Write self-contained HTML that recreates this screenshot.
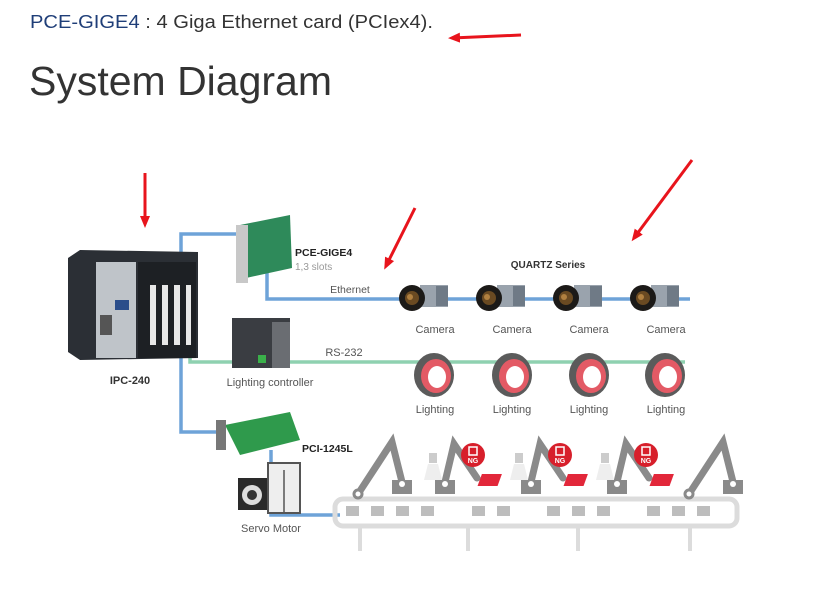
<!DOCTYPE html>
<html><head><meta charset="utf-8"><style>
html,body{margin:0;padding:0;background:#fff;width:826px;height:594px;overflow:hidden}
svg{display:block}
</style></head><body>
<svg width="826" height="594" viewBox="0 0 826 594" xmlns="http://www.w3.org/2000/svg" font-family="Liberation Sans, Arial, sans-serif">
<defs>
<marker id="ah" markerWidth="12" markerHeight="10" refX="8" refY="5" orient="auto" markerUnits="userSpaceOnUse"><path d="M0,0 L12,5 L0,10 z" fill="#e8141c"/></marker>
<g id="cam">
  <rect x="8" y="-13" width="28" height="22" fill="#9aa3ad"/>
  <rect x="24" y="-12" width="12" height="20" fill="#6f7a86"/>
  <circle cx="0" cy="0" r="13" fill="#1c1a18"/>
  <circle cx="0" cy="0" r="7" fill="#6a4a22"/>
  <circle cx="-2" cy="-1" r="3" fill="#b08040"/>
</g>
<g id="ring">
  <ellipse cx="0" cy="0" rx="20" ry="22" fill="#5b5b5b"/>
  <ellipse cx="2" cy="1" rx="15" ry="17" fill="#e35a65"/>
  <ellipse cx="3" cy="2" rx="9" ry="11" fill="#fff"/>
</g>
<g id="robA" stroke="#8a8a8a" stroke-linecap="round" fill="none">
  <path d="M0,0 L-10,-40 L-44,12" stroke-width="7"/>
  <rect x="-10" y="-2" width="20" height="14" fill="#8a8a8a" stroke="none"/>
  <circle cx="0" cy="2" r="3" fill="#fff" stroke="none"/>
  <circle cx="-44" cy="12" r="4" fill="#fff" stroke-width="3"/>
</g>
<g id="robB" stroke="#8a8a8a" stroke-linecap="round" fill="none">
  <path d="M0,0 L9,-38 L32,-4" stroke-width="7"/>
  <rect x="-10" y="-2" width="20" height="14" fill="#8a8a8a" stroke="none"/>
  <circle cx="0" cy="2" r="3" fill="#fff" stroke="none"/>
  <rect x="34" y="-8" width="20" height="12" fill="#e2273a" stroke="none" transform="skewX(-20)"/>
</g>
<g id="ng">
  <circle cx="0" cy="0" r="12" fill="#d71f2b"/>
  <rect x="-4" y="-8" width="8" height="8" fill="none" stroke="#fff" stroke-width="1.5"/>
  <text x="0" y="8" font-size="7" fill="#fff" text-anchor="middle" font-weight="bold">NG</text>
</g>
<g id="lamp">
  <rect x="-4" y="-9" width="8" height="10" fill="#ccc"/>
  <path d="M-5,2 L5,2 L9,18 L-9,18 z" fill="#eee"/>
</g>
</defs>

<text x="30" y="28" font-size="18" fill="#333" textLength="403" lengthAdjust="spacingAndGlyphs"><tspan fill="#1f3e78">PCE-GIGE4</tspan> : 4 Giga Ethernet card (PCIex4).</text>
<text x="29" y="95" font-size="41" fill="#333" textLength="303" lengthAdjust="spacingAndGlyphs">System Diagram</text>

<g stroke="#e8141c" stroke-width="3" marker-end="url(#ah)">
<line x1="521" y1="35" x2="452" y2="38"/>
<line x1="145" y1="173" x2="145" y2="224"/>
<line x1="415" y1="208" x2="386" y2="266"/>
<line x1="692" y1="160" x2="634" y2="238"/>
</g>

<g fill="none" stroke-width="3.5">
<path d="M245,234 L181,234 L181,432 L220,432" stroke="#6ea3d8"/>
<path d="M267,270 L267,299 L690,299" stroke="#6ea3d8"/>
<path d="M190,340 L190,362 L685,362" stroke="#8fd1b0"/>
<path d="M271,450 L271,515 L340,515" stroke="#6ea3d8"/>
</g>

<path d="M68,258 L80,250 L198,252 L198,358 L80,360 L68,352 z" fill="#2b2f35"/>
<rect x="96" y="262" width="40" height="96" fill="#bfc4c9"/>
<rect x="138" y="262" width="58" height="96" fill="#1d2024"/>
<g fill="#e8e8e8"><rect x="150" y="285" width="6" height="60"/><rect x="162" y="285" width="6" height="60"/><rect x="174" y="285" width="6" height="60"/><rect x="186" y="285" width="5" height="60"/></g>
<rect x="100" y="315" width="12" height="20" fill="#555"/>
<rect x="115" y="300" width="14" height="10" fill="#2a4d8a"/>
<text x="130" y="384" font-size="11" font-weight="bold" fill="#333" text-anchor="middle">IPC-240</text>

<path d="M240,225 L290,215 L292,268 L246,278 z" fill="#2e8a5a"/>
<rect x="236" y="225" width="12" height="58" fill="#c8c8c8"/>
<text x="295" y="256" font-size="10.5" font-weight="bold" fill="#222">PCE-GIGE4</text>
<text x="295" y="270" font-size="10" fill="#999">1,3 slots</text>
<text x="350" y="293" font-size="10.5" fill="#555" text-anchor="middle">Ethernet</text>

<text x="548" y="268" font-size="10" font-weight="bold" fill="#333" text-anchor="middle">QUARTZ Series</text>
<use href="#cam" x="412" y="298"/><use href="#cam" x="489" y="298"/><use href="#cam" x="566" y="298"/><use href="#cam" x="643" y="298"/>
<g font-size="11" fill="#555" text-anchor="middle">
<text x="435" y="333">Camera</text><text x="512" y="333">Camera</text><text x="589" y="333">Camera</text><text x="666" y="333">Camera</text>
</g>

<rect x="232" y="318" width="58" height="50" fill="#3a3d42"/>
<rect x="272" y="322" width="18" height="46" fill="#6a6d72"/>
<rect x="258" y="355" width="8" height="8" fill="#3ab04a"/>
<text x="270" y="386" font-size="11" fill="#555" text-anchor="middle">Lighting controller</text>
<text x="344" y="356" font-size="11" fill="#555" text-anchor="middle">RS-232</text>

<use href="#ring" x="434" y="375"/><use href="#ring" x="512" y="375"/><use href="#ring" x="589" y="375"/><use href="#ring" x="665" y="375"/>
<g font-size="11" fill="#555" text-anchor="middle">
<text x="435" y="413">Lighting</text><text x="512" y="413">Lighting</text><text x="589" y="413">Lighting</text><text x="666" y="413">Lighting</text>
</g>

<path d="M225,425 L290,412 L300,440 L240,455 z" fill="#2f9a4c"/>
<rect x="216" y="420" width="10" height="30" fill="#777"/>
<text x="302" y="452" font-size="10.5" font-weight="bold" fill="#222">PCI-1245L</text>

<rect x="238" y="478" width="30" height="32" fill="#2a2a2a"/>
<circle cx="252" cy="495" r="10" fill="#ddd"/><circle cx="252" cy="495" r="5" fill="#333"/>
<rect x="268" y="463" width="32" height="50" fill="#eee" stroke="#555" stroke-width="2"/>
<line x1="284" y1="470" x2="284" y2="512" stroke="#555" stroke-width="1.5"/>
<text x="271" y="532" font-size="11" fill="#555" text-anchor="middle">Servo Motor</text>

<rect x="335" y="499" width="402" height="27" rx="8" fill="none" stroke="#dcdcdc" stroke-width="5"/>
<g stroke="#dcdcdc" stroke-width="4"><line x1="360" y1="528" x2="360" y2="551"/><line x1="468" y1="528" x2="468" y2="551"/><line x1="578" y1="528" x2="578" y2="551"/><line x1="690" y1="528" x2="690" y2="551"/></g>
<g fill="#bdbdbd">
<rect x="346" y="506" width="13" height="10"/>
<rect x="371" y="506" width="13" height="10"/><rect x="396" y="506" width="13" height="10"/><rect x="421" y="506" width="13" height="10"/>
<rect x="472" y="506" width="13" height="10"/><rect x="497" y="506" width="13" height="10"/>
<rect x="547" y="506" width="13" height="10"/><rect x="572" y="506" width="13" height="10"/><rect x="597" y="506" width="13" height="10"/>
<rect x="647" y="506" width="13" height="10"/><rect x="672" y="506" width="13" height="10"/><rect x="697" y="506" width="13" height="10"/>
</g>
<use href="#robA" x="402" y="482"/><use href="#robA" x="733" y="482"/>
<use href="#robB" x="445" y="482"/><use href="#robB" x="531" y="482"/><use href="#robB" x="617" y="482"/>
<use href="#lamp" x="433" y="462"/><use href="#lamp" x="519" y="462"/><use href="#lamp" x="605" y="462"/>
<use href="#ng" x="473" y="455"/><use href="#ng" x="560" y="455"/><use href="#ng" x="646" y="455"/>
</svg>
</body></html>
